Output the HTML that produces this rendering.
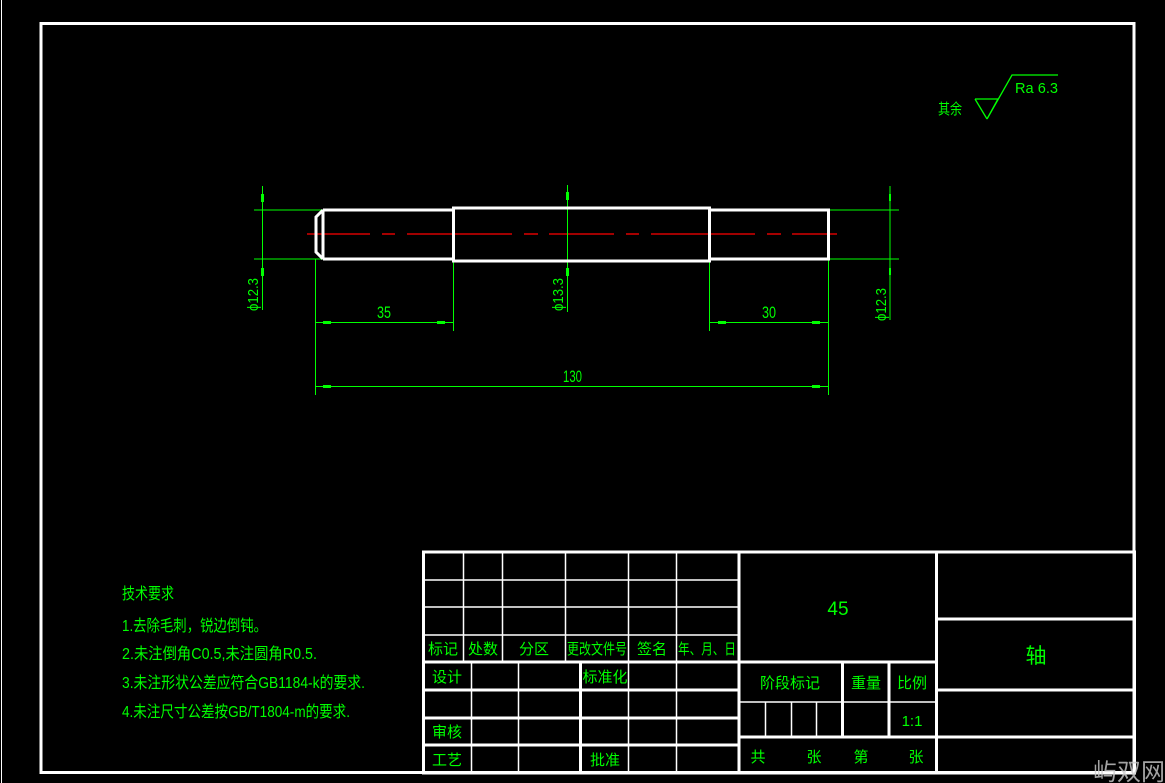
<!DOCTYPE html>
<html><head><meta charset="utf-8">
<style>
html,body{margin:0;padding:0;background:#000;width:1165px;height:783px;overflow:hidden}
svg{display:block}
text{font-family:"Liberation Sans","Noto Sans CJK SC",sans-serif;fill:#00ff00}
</style></head><body>
<svg width="1165" height="783" viewBox="0 0 1165 783" xmlns="http://www.w3.org/2000/svg">
<rect width="1165" height="783" fill="#000"/>
<line x1="1.5" y1="0" x2="1.5" y2="783" stroke="#fff" stroke-width="1"/>
<rect x="41" y="23.5" width="1093" height="749" fill="none" stroke="#fff" stroke-width="3"/>

<g stroke="#00ff00" stroke-width="1.3" fill="none">
<polyline points="975,99 998,99 987,119 1012,75 1058,75"/>
<line x1="975" y1="99" x2="987" y2="119"/>
</g>
<text x="1015" y="93" font-size="15" textLength="43" lengthAdjust="spacingAndGlyphs">Ra 6.3</text>
<text x="938" y="114" font-size="15" textLength="24" lengthAdjust="spacingAndGlyphs">其余</text>

<g stroke="#ff0000" stroke-width="1.3">
<line x1="307" y1="234" x2="370" y2="234"/><line x1="382" y1="234" x2="395" y2="234"/>
<line x1="407" y1="234" x2="512" y2="234"/><line x1="524" y1="234" x2="538" y2="234"/>
<line x1="549" y1="234" x2="614" y2="234"/><line x1="626" y1="234" x2="639" y2="234"/>
<line x1="651" y1="234" x2="755" y2="234"/><line x1="767" y1="234" x2="781" y2="234"/>
<line x1="792" y1="234" x2="837" y2="234"/>
</g>

<g stroke="#00ff00" stroke-width="1">
<line x1="254" y1="210" x2="323" y2="210"/><line x1="254" y1="259" x2="323" y2="259"/>
<line x1="828" y1="210" x2="899" y2="210"/><line x1="828" y1="259" x2="899" y2="259"/>
<line x1="262.5" y1="186" x2="262.5" y2="310"/>
<line x1="567.5" y1="185" x2="567.5" y2="312"/>
<line x1="890" y1="186" x2="890" y2="320"/>
<line x1="559" y1="208" x2="580" y2="208"/><line x1="559" y1="261" x2="569" y2="261"/>
<line x1="315.5" y1="259" x2="315.5" y2="395"/>
<line x1="453.5" y1="262" x2="453.5" y2="331"/>
<line x1="709.5" y1="262" x2="709.5" y2="331"/>
<line x1="828.5" y1="259" x2="828.5" y2="395"/>
<line x1="315" y1="322.5" x2="453" y2="322.5"/>
<line x1="710" y1="322.5" x2="828" y2="322.5"/>
<line x1="315" y1="386.5" x2="828" y2="386.5"/>
</g>
<g fill="#00ff00">
<rect x="261" y="194" width="3" height="8"/><rect x="261" y="268" width="3" height="8"/>
<rect x="566" y="192" width="3" height="8"/><rect x="566" y="268" width="3" height="8"/>
<rect x="889" y="194" width="2" height="7"/><rect x="889" y="268" width="2" height="7"/>
<rect x="323" y="321" width="8" height="3"/><rect x="437" y="321" width="8" height="3"/>
<rect x="718" y="321" width="8" height="3"/><rect x="812" y="321" width="8" height="3"/>
<rect x="323" y="385" width="8" height="3"/><rect x="812" y="385" width="8" height="3"/>
</g>
<text x="377" y="318" font-size="17" textLength="14" lengthAdjust="spacingAndGlyphs">35</text>
<text x="762" y="318" font-size="17" textLength="14" lengthAdjust="spacingAndGlyphs">30</text>
<text x="563" y="382" font-size="17" textLength="19" lengthAdjust="spacingAndGlyphs">130</text>
<text transform="translate(258,311) rotate(-90)" font-size="15" textLength="33" lengthAdjust="spacingAndGlyphs">ϕ12.3</text>
<text transform="translate(563,311) rotate(-90)" font-size="15" textLength="33" lengthAdjust="spacingAndGlyphs">ϕ13.3</text>
<text transform="translate(886,321) rotate(-90)" font-size="15" textLength="33" lengthAdjust="spacingAndGlyphs">ϕ12.3</text>

<g stroke="#fff" stroke-width="3" fill="none">
<polyline points="323,210 453,210"/><polyline points="323,259 453,259"/>
<polyline points="323,210 316,217 316,252 323,259"/>
<line x1="323" y1="210" x2="323" y2="259"/>
<rect x="453.5" y="208" width="256" height="53"/>
<rect x="709.5" y="210" width="119" height="49"/>
</g>

<g font-size="16">
<text x="122" y="599" textLength="52" lengthAdjust="spacingAndGlyphs">技术要求</text>
<text x="122" y="631" textLength="145" lengthAdjust="spacingAndGlyphs">1.去除毛刺，锐边倒钝。</text>
<text x="122" y="659" textLength="195" lengthAdjust="spacingAndGlyphs">2.未注倒角C0.5,未注圆角R0.5.</text>
<text x="122" y="688" textLength="243" lengthAdjust="spacingAndGlyphs">3.未注形状公差应符合GB1184-k的要求.</text>
<text x="122" y="717" textLength="228" lengthAdjust="spacingAndGlyphs">4.未注尺寸公差按GB/T1804-m的要求.</text>
</g>

<g stroke="#fff" fill="none">
<rect x="423.5" y="552" width="711" height="221" stroke-width="3"/>
<g stroke-width="1.5">
<line x1="423" y1="580" x2="739" y2="580"/>
<line x1="423" y1="607" x2="739" y2="607"/>
<line x1="423" y1="635" x2="739" y2="635"/>
<line x1="463.5" y1="552" x2="463.5" y2="662"/>
<line x1="502.5" y1="552" x2="502.5" y2="662"/>
<line x1="565.5" y1="552" x2="565.5" y2="662"/>
<line x1="628.5" y1="552" x2="628.5" y2="662"/>
<line x1="676.5" y1="552" x2="676.5" y2="662"/>
<line x1="471.5" y1="662" x2="471.5" y2="773"/>
<line x1="518.5" y1="662" x2="518.5" y2="773"/>
<line x1="628.5" y1="662" x2="628.5" y2="773"/>
<line x1="676.5" y1="662" x2="676.5" y2="773"/>
<line x1="739" y1="702" x2="936" y2="702"/>
<line x1="765.5" y1="702" x2="765.5" y2="737"/>
<line x1="791.5" y1="702" x2="791.5" y2="737"/>
<line x1="816.5" y1="702" x2="816.5" y2="737"/>
</g>
<g stroke-width="3">
<line x1="423" y1="662" x2="936" y2="662"/>
<line x1="423" y1="690" x2="739" y2="690"/>
<line x1="423" y1="718" x2="739" y2="718"/>
<line x1="423" y1="745" x2="739" y2="745"/>
<line x1="580.5" y1="662" x2="580.5" y2="773"/>
<line x1="739" y1="552" x2="739" y2="773"/>
<line x1="842.5" y1="662" x2="842.5" y2="737"/>
<line x1="889" y1="662" x2="889" y2="737"/>
<line x1="739" y1="737" x2="1134" y2="737"/>
<line x1="936.5" y1="552" x2="936.5" y2="773"/>
<line x1="936" y1="619" x2="1134" y2="619"/>
<line x1="936" y1="690" x2="1134" y2="690"/>
</g>
</g>
<g font-size="15" text-anchor="middle">
<text x="443" y="654">标记</text><text x="483" y="654">处数</text><text x="534" y="654">分区</text>
<text x="597" y="654" textLength="60" lengthAdjust="spacingAndGlyphs">更改文件号</text>
<text x="652" y="654">签名</text><text x="707" y="654" textLength="58" lengthAdjust="spacingAndGlyphs">年、月、日</text>
<text x="447" y="682">设计</text><text x="605" y="682">标准化</text>
<text x="447" y="737">审核</text><text x="447" y="765">工艺</text><text x="605" y="765">批准</text>
<text x="790" y="688">阶段标记</text><text x="866" y="688">重量</text><text x="912" y="688">比例</text>
<text x="912" y="726">1:1</text>
<text x="758" y="762">共</text><text x="814" y="762">张</text><text x="861" y="762">第</text><text x="916" y="762">张</text>
<text x="838" y="615" font-size="19">45</text>
<text x="1036" y="663" font-size="21">轴</text>
</g>
<text x="1093" y="780" font-size="24" style="fill:#ccc;opacity:0.8">屿双网</text>
</svg>
</body></html>
